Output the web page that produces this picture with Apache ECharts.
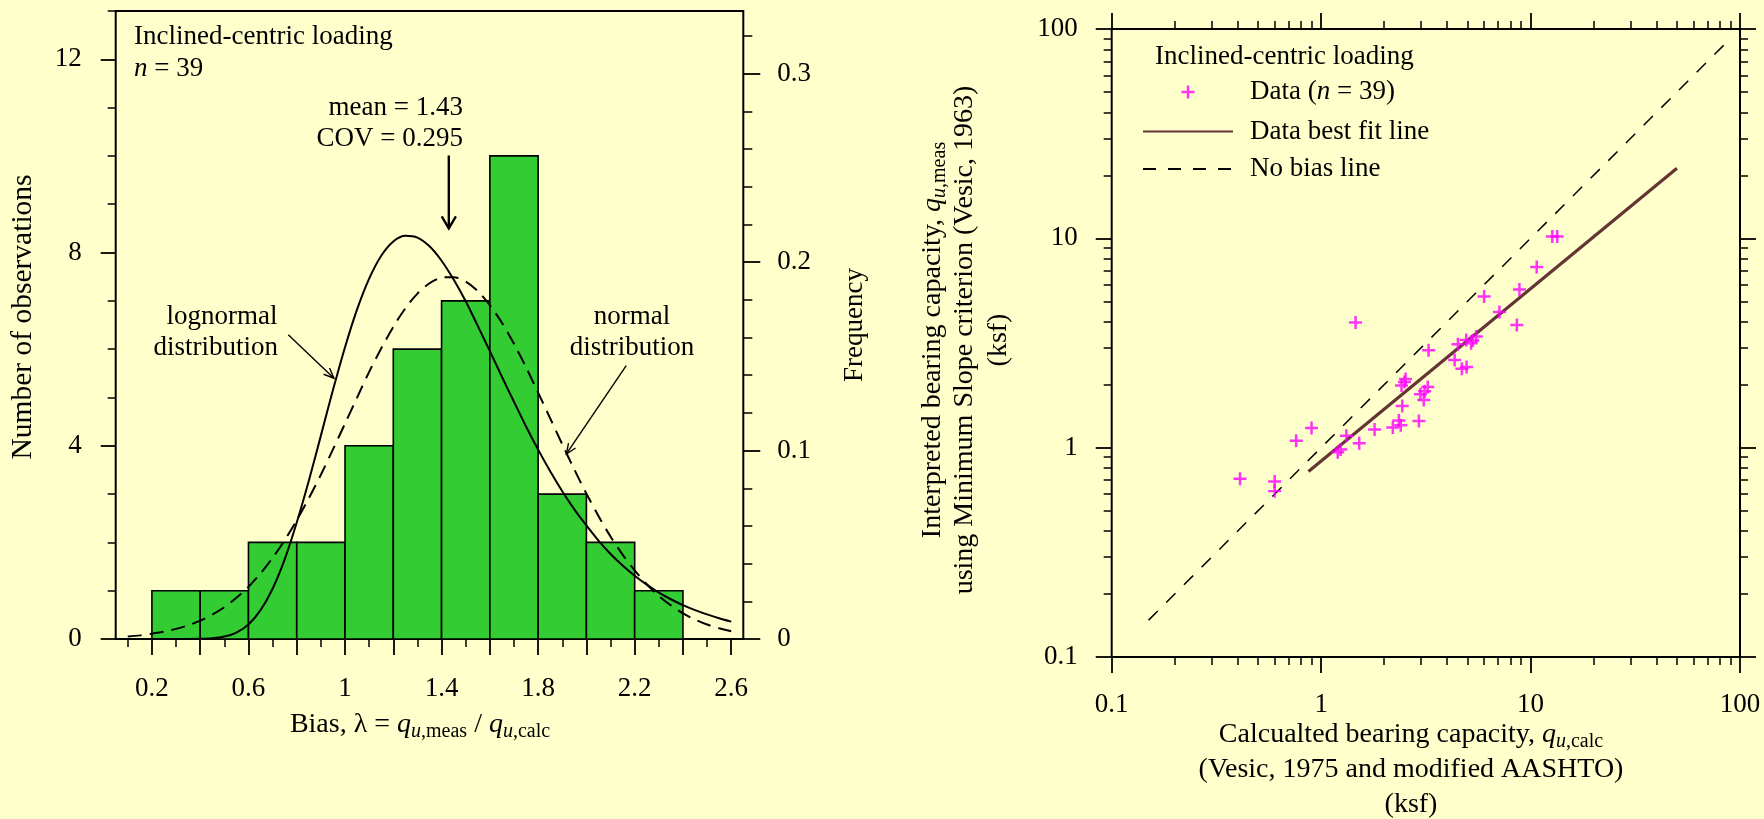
<!DOCTYPE html>
<html>
<head>
<meta charset="utf-8">
<script src="https://cdn.jsdelivr.net/npm/echarts@6/dist/echarts.min.js"></script>
<style>
html, body { margin: 0; padding: 0; background: #ffffcc; }
#chart { width: 1764px; height: 819px; }
</style>
</head>
<body>
<div id="chart"></div>
<script>
// ---- Bias histogram (inclined-centric loading) ----
const binEdges = [0.2, 0.4, 0.6, 0.8, 1.0, 1.2, 1.4, 1.6, 1.8, 2.0, 2.2, 2.4];
const binCounts = [1, 1, 2, 2, 4, 6, 7, 10, 3, 2, 1];
const sampleSize = 39;

// fitted distributions, expressed as expected counts per bin
const curveX = [0.1, 0.15, 0.2, 0.25, 0.3, 0.35, 0.4, 0.45, 0.5, 0.55, 0.6, 0.65, 0.7, 0.75,
                0.8, 0.85, 0.9, 0.95, 1.0, 1.05, 1.1, 1.15, 1.2, 1.25, 1.3, 1.35, 1.4, 1.45,
                1.5, 1.55, 1.6, 1.65, 1.7, 1.75, 1.8, 1.85, 1.9, 1.95, 2.0, 2.05, 2.1, 2.15,
                2.2, 2.25, 2.3, 2.35, 2.4, 2.45, 2.5, 2.55, 2.6];
const lognormalCurve = [0, 0, 0, 0, 0, 0, 0.003, 0.014, 0.05, 0.134, 0.30, 0.597, 1.04, 1.647,
                        2.41, 3.277, 4.21, 5.153, 6.04, 6.823, 7.46, 7.934, 8.23, 8.349, 8.31, 8.129, 7.83, 7.44,
                        6.99, 6.482, 5.96, 5.428, 4.91, 4.40, 3.92, 3.474, 3.06, 2.684, 2.35, 2.037, 1.76, 1.522,
                        1.31, 1.125, 0.96, 0.823, 0.70, 0.597, 0.51, 0.43, 0.36];
const normalCurve = [0.05, 0.075, 0.11, 0.15, 0.21, 0.283, 0.38, 0.505, 0.66, 0.852, 1.08, 1.358, 1.68, 2.045,
                     2.46, 2.914, 3.40, 3.925, 4.46, 4.998, 5.53, 6.016, 6.46, 6.846, 7.15, 7.364, 7.48, 7.49,
                     7.40, 7.201, 6.91, 6.545, 6.11, 5.624, 5.10, 4.568, 4.03, 3.508, 3.01, 2.547, 2.12, 1.748,
                     1.42, 1.134, 0.89, 0.696, 0.53, 0.404, 0.30, 0.221, 0.16];

const biasMajorTicks = [0.2, 0.4, 0.6, 0.8, 1.0, 1.2, 1.4, 1.6, 1.8, 2.0, 2.2, 2.4, 2.6];
const biasMinorTicks = [0.1, 0.3, 0.5, 0.7, 0.9, 1.1, 1.3, 1.5, 1.7, 1.9, 2.1, 2.3, 2.5];
const biasTickLabels = [0.2, 0.6, 1, 1.4, 1.8, 2.2, 2.6];
const countTicks = [0, 4, 8, 12];
const countMinorTicks = [1, 2, 3, 5, 6, 7, 9, 10, 11, 13];
const freqTicks = [0, 0.1, 0.2, 0.3];
const freqMinorTicks = [0.02, 0.04, 0.06, 0.08, 0.12, 0.14, 0.16, 0.18,
                        0.22, 0.24, 0.26, 0.28, 0.32];

// ---- Measured vs calculated bearing capacity (ksf) ----
const qCalc = [1.46, 6.0, 7.1, 3.26, 4.5, 4.93, 5.2, 5.3, 5.5, 4.34, 4.7, 4.95, 2.42, 2.5, 2.53,
               3.23, 3.12, 2.98, 3.09, 2.44, 2.93, 2.35, 2.4, 2.2, 1.8, 1.52, 1.32, 1.2, 1.24,
               0.9, 0.76, 0.41, 0.6, 0.6, 12.7, 13.4, 10.7, 8.85, 8.6];
const qMeas = [3.96, 5.28, 4.45, 2.92, 3.12, 3.27, 3.15, 3.25, 3.4, 2.62, 2.38, 2.43, 1.98, 2.06, 2.13,
               1.95, 1.86, 1.80, 1.69, 1.58, 1.34, 1.35, 1.28, 1.25, 1.22, 1.05, 1.14, 0.95, 0.98,
               1.24, 1.08, 0.71, 0.69, 0.62, 10.2, 10.2, 7.3, 5.7, 3.85];
const fitLineX = [0.87, 50];
const fitLineY = [0.77, 21.6];
const noBiasX = [0.15, 90];
const noBiasY = [0.15, 90];
const logMinorTicks = [0.2, 0.3, 0.4, 0.5, 0.6, 0.7, 0.8, 0.9,
                       2, 3, 4, 5, 6, 7, 8, 9,
                       20, 30, 40, 50, 60, 70, 80, 90];

// ---- styling ----
const FONT = "'Liberation Serif', 'Times New Roman', serif";
const FS = 27;      // tick labels and notes
const TFS = 28;     // axis titles
const INK = '#000';
const FIT_COLOR = '#653535';
const plusSymbol = 'path://M4.85,0H7.15V4.85H12V7.15H7.15V12H4.85V7.15H0V4.85H4.85Z';

function richSet(size) {
  const sub = Math.round(size * 0.7);
  return {
    i: { fontFamily: FONT, fontSize: size, fontStyle: 'italic', color: INK, lineHeight: 34, verticalAlign: 'middle' },
    si: { fontFamily: FONT, fontSize: sub, fontStyle: 'italic', color: INK, lineHeight: 18, verticalAlign: 'bottom' },
    s: { fontFamily: FONT, fontSize: sub, color: INK, lineHeight: 18, verticalAlign: 'bottom' },
    r: { fontFamily: FONT, fontSize: size, color: INK, lineHeight: 34, verticalAlign: 'middle' }
  };
}
const noteRich = richSet(FS);
const titleRich = richSet(TFS);

// text annotations on the histogram, in data units
const histNotes = [
  { at: [0.126, 12.47], text: 'Inclined-centric loading', align: 'left' },
  { at: [0.126, 11.80], text: '{i|n}{r| = 39}', align: 'left' },
  { at: [1.489, 11.00], text: 'mean = 1.43', align: 'right' },
  { at: [1.489, 10.35], text: 'COV = 0.295', align: 'right' },
  { at: [0.720, 6.66], text: 'lognormal', align: 'right' },
  { at: [0.722, 6.02], text: 'distribution', align: 'right' },
  { at: [2.189, 6.66], text: 'normal', align: 'center' },
  { at: [2.189, 6.02], text: 'distribution', align: 'center' }
];
const histArrows = [
  { from: [1.43, 10.01], to: [1.43, 8.50], width: 2.4, head: 14, spread: 0.53 },
  { from: [0.765, 6.30], to: [0.954, 5.40], width: 1.4, head: 11, spread: 0.4 },
  { from: [2.165, 5.66], to: [1.917, 3.83], width: 1.4, head: 11, spread: 0.4 }
];

const chart = echarts.init(document.getElementById('chart'), null, { renderer: 'canvas' });

const labelStyle = { fontFamily: FONT, fontSize: FS, color: INK };
const noLine = { show: false };
function tickStyle(len, w) {
  return { show: true, inside: false, length: len, lineStyle: { color: INK, width: w } };
}
function valueAxis(extra) {
  return Object.assign({
    type: 'value', axisLine: noLine, splitLine: { show: false }, axisLabel: { show: false },
    axisTick: { show: false }
  }, extra);
}
function logAxis(extra) {
  return Object.assign({
    type: 'log', logBase: 10, gridIndex: 1, min: 0.1, max: 100,
    axisLine: noLine, splitLine: { show: false }, axisLabel: { show: false }
  }, extra);
}
function plainText(x, y, text, size, rotate, align) {
  return {
    type: 'text', x: x, y: y, rotation: rotate ? Math.PI / 2 : 0,
    style: { text: text, fontFamily: FONT, fontSize: size, fill: INK,
      align: align || 'center', verticalAlign: 'middle' }
  };
}
function richText(x, y, text, rotate) {
  return {
    type: 'text', x: x, y: y, rotation: rotate ? Math.PI / 2 : 0,
    style: { text: text, rich: titleRich, align: 'center', verticalAlign: 'middle' }
  };
}

const option = {
  backgroundColor: '#ffffcc',
  animation: false,
  grid: [
    { left: 115.7, top: 11, width: 627.6, height: 628, show: true, borderColor: INK, borderWidth: 2,
      backgroundColor: 'transparent' },
    { left: 1111.7, top: 29, width: 628.3, height: 628, show: true, borderColor: INK, borderWidth: 2,
      backgroundColor: 'transparent' }
  ],
  xAxis: [
    // histogram: bias axis
    valueAxis({ gridIndex: 0, position: 'bottom', min: 0.05, max: 2.65,
      axisTick: Object.assign(tickStyle(16, 1.8), { customValues: biasMajorTicks }),
      axisLabel: Object.assign({ show: true, margin: 36, customValues: biasTickLabels }, labelStyle) }),
    valueAxis({ gridIndex: 0, position: 'bottom', min: 0.05, max: 2.65,
      axisTick: Object.assign(tickStyle(8, 1.5), { customValues: biasMinorTicks }) }),
    // scatter: calculated capacity (log)
    logAxis({ position: 'bottom', axisTick: tickStyle(16, 1.8),
      axisLabel: Object.assign({ show: true, margin: 34 }, labelStyle) }),
    logAxis({ position: 'bottom', axisTick: Object.assign(tickStyle(8, 1.5), { customValues: logMinorTicks }) }),
    logAxis({ position: 'top', axisTick: tickStyle(16, 1.8) }),
    logAxis({ position: 'top', axisTick: Object.assign(tickStyle(8, 1.5), { customValues: logMinorTicks }) })
  ],
  yAxis: [
    // histogram: counts (left) and frequency (right)
    valueAxis({ gridIndex: 0, position: 'left', min: 0, max: 13,
      axisTick: Object.assign(tickStyle(15, 1.8), { customValues: countTicks }),
      axisLabel: Object.assign({ show: true, margin: 34, customValues: countTicks }, labelStyle) }),
    valueAxis({ gridIndex: 0, position: 'left', min: 0, max: 13,
      axisTick: Object.assign(tickStyle(8, 1.5), { customValues: countMinorTicks }) }),
    valueAxis({ gridIndex: 0, position: 'right', min: 0, max: 13 / sampleSize,
      axisTick: Object.assign(tickStyle(17, 1.8), { customValues: freqTicks }),
      axisLabel: Object.assign({ show: true, margin: 34, customValues: freqTicks }, labelStyle) }),
    valueAxis({ gridIndex: 0, position: 'right', min: 0, max: 13 / sampleSize,
      axisTick: Object.assign(tickStyle(9, 1.5), { customValues: freqMinorTicks }) }),
    // scatter: measured capacity (log)
    logAxis({ position: 'left', axisTick: tickStyle(16, 1.8),
      axisLabel: Object.assign({ show: true, margin: 34 }, labelStyle) }),
    logAxis({ position: 'left', axisTick: Object.assign(tickStyle(8, 1.5), { customValues: logMinorTicks }) }),
    logAxis({ position: 'right', axisTick: tickStyle(16, 1.8) }),
    logAxis({ position: 'right', axisTick: Object.assign(tickStyle(8, 1.5), { customValues: logMinorTicks }) })
  ],
  legend: {
    orient: 'vertical', left: 1142, top: 75, padding: 0,
    itemWidth: 90, itemHeight: 13, itemGap: 7.5,
    data: [
      { name: 'Data (n = 39)' },
      { name: 'Data best fit line', itemStyle: { opacity: 0 } },
      { name: 'No bias line', itemStyle: { opacity: 0 } }
    ],
    textStyle: { fontFamily: FONT, fontSize: FS, color: INK, lineHeight: 30, padding: [0, 0, 0, 12], rich: noteRich },
    formatter: function (name) {
      return name === 'Data (n = 39)' ? '{r|Data (}{i|n}{r| = 39)}' : name;
    }
  },
  graphic: [
    plainText(23, 317, 'Number of observations', 29.5, true),
    plainText(855, 325, 'Frequency', FS, true),
    richText(420, 725, '{r|Bias, λ = }{i|q}{si|u}{s|,meas}{r| / }{i|q}{si|u}{s|,calc}', false),
    richText(933, 340, '{r|Interpreted bearing capacity, }{i|q}{si|u}{s|,meas}', true),
    plainText(965, 340, 'using Minimum Slope criterion (Vesic, 1963)', TFS, true),
    plainText(999, 340, '(ksf)', TFS, true),
    richText(1411, 735, '{r|Calcualted bearing capacity, }{i|q}{si|u}{s|,calc}', false),
    plainText(1411, 770, '(Vesic, 1975 and modified AASHTO)', TFS, false),
    plainText(1411, 805, '(ksf)', TFS, false),
    plainText(1155, 57, 'Inclined-centric loading', FS, false, 'left')
  ],
  series: [
    {
      name: 'histogram', type: 'custom', xAxisIndex: 0, yAxisIndex: 0, clip: true, z: 1,
      data: binCounts.map((c, i) => [binEdges[i], binEdges[i + 1], c]),
      renderItem: function (params, api) {
        const p0 = api.coord([api.value(0), api.value(2)]);
        const p1 = api.coord([api.value(1), 0]);
        return {
          type: 'rect',
          shape: { x: p0[0], y: p0[1], width: p1[0] - p0[0], height: p1[1] - p0[1] },
          style: { fill: '#33cc33', stroke: INK, lineWidth: 1.6 }
        };
      }
    },
    {
      name: 'lognormal', type: 'line', xAxisIndex: 0, yAxisIndex: 0, z: 3,
      data: curveX.map((x, i) => [x, lognormalCurve[i]]),
      smooth: 0.3, symbol: 'none',
      lineStyle: { color: INK, width: 2 }
    },
    {
      name: 'normal', type: 'line', xAxisIndex: 0, yAxisIndex: 0, z: 3,
      data: curveX.map((x, i) => [x, normalCurve[i]]),
      smooth: 0.3, symbol: 'none',
      lineStyle: { color: INK, width: 2, type: [14, 8] }
    },
    {
      name: 'arrows', type: 'custom', xAxisIndex: 0, yAxisIndex: 0, clip: false, z: 4,
      data: histArrows.map(a => a.to),
      renderItem: function (params, api) {
        const a = histArrows[params.dataIndex];
        const p1 = api.coord(a.from);
        const p2 = api.coord(a.to);
        const ang = Math.atan2(p2[1] - p1[1], p2[0] - p1[0]);
        const l = [p2[0] - a.head * Math.cos(ang - a.spread), p2[1] - a.head * Math.sin(ang - a.spread)];
        const r = [p2[0] - a.head * Math.cos(ang + a.spread), p2[1] - a.head * Math.sin(ang + a.spread)];
        return {
          type: 'group',
          children: [
            { type: 'line', shape: { x1: p1[0], y1: p1[1], x2: p2[0], y2: p2[1] },
              style: { stroke: INK, lineWidth: a.width } },
            { type: 'polyline', shape: { points: [l, p2, r] },
              style: { stroke: INK, lineWidth: a.width, fill: null } }
          ]
        };
      }
    },
    {
      name: 'notes', type: 'custom', xAxisIndex: 0, yAxisIndex: 0, clip: false, z: 4,
      data: histNotes.map(n => n.at),
      renderItem: function (params, api) {
        const n = histNotes[params.dataIndex];
        const p = api.coord(n.at);
        return {
          type: 'text', x: p[0], y: p[1],
          style: { text: n.text, rich: noteRich, fontFamily: FONT, fontSize: FS, fill: INK,
            align: n.align, verticalAlign: 'middle' }
        };
      }
    },
    {
      name: 'No bias line', type: 'line', xAxisIndex: 2, yAxisIndex: 4, z: 2,
      data: noBiasX.map((x, i) => [x, noBiasY[i]]),
      symbol: 'none', lineStyle: { color: INK, width: 1.5, type: [13, 12] }, itemStyle: { color: INK }
    },
    {
      name: 'Data best fit line', type: 'line', xAxisIndex: 2, yAxisIndex: 4, z: 3,
      data: fitLineX.map((x, i) => [x, fitLineY[i]]),
      symbol: 'none', lineStyle: { color: FIT_COLOR, width: 3.2 }, itemStyle: { color: FIT_COLOR }
    },
    {
      name: 'Data (n = 39)', type: 'scatter', xAxisIndex: 2, yAxisIndex: 4, z: 4,
      data: qCalc.map((x, i) => [x, qMeas[i]]),
      symbol: plusSymbol, symbolSize: 13, itemStyle: { color: '#ff00ff' }
    }
  ]
};

chart.setOption(option);
</script>
</body>
</html>
